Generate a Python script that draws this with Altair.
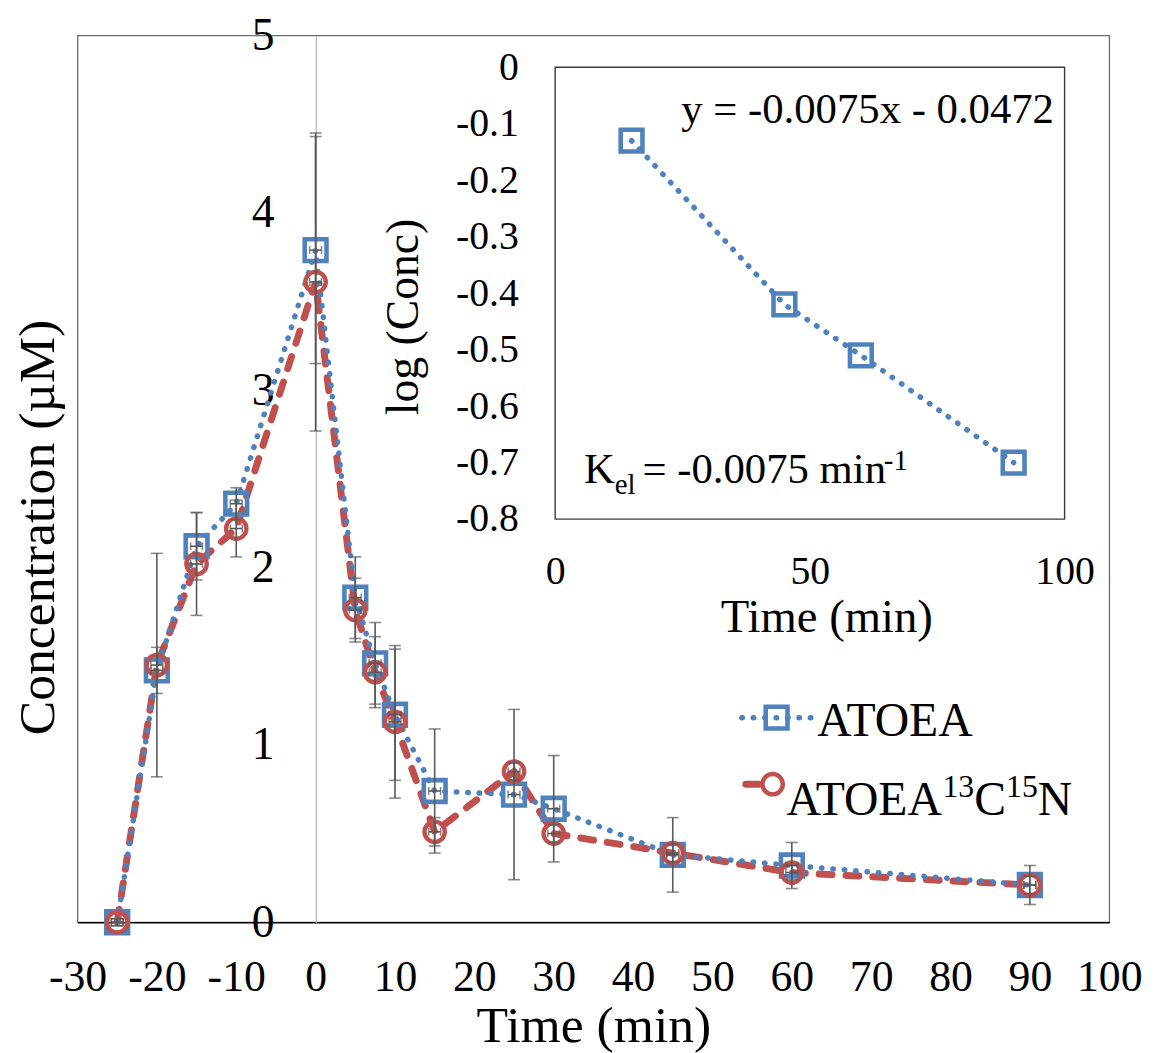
import altair as alt
import pandas as pd

FONT = "Liberation Serif"

# ---------------- data ----------------
time = [-25, -20, -15, -10, 0, 5, 7.5, 10, 15, 25, 30, 45, 60, 90]
time_err = [0.75, 0.75, 0.75, 0.75, 0.75, 0.75, 0.75, 0.75, 0.75, 0.75, 0.75, 0.75, 0.75, 0.75]
atoea = [0.0, 1.42, 2.12, 2.36, 3.79, 1.83, 1.46, 1.17, 0.74, 0.72, 0.64, 0.38, 0.32, 0.21]
atoea_err = [0.02, 0.13, 0.19, 0.09, 0.64, 0.23, 0.23, 0.37, 0.35, 0.48, 0.30, 0.21, 0.13, 0.11]
labeled = [0.0, 1.45, 2.02, 2.22, 3.61, 1.76, 1.41, 1.13, 0.51, 0.85, 0.50, 0.39, 0.28, 0.21]
labeled_err = [0.02, 0.63, 0.29, 0.16, 0.84, 0.18, 0.20, 0.43, 0.08, 0.05, 0.05, 0.05, 0.04, 0.05]

inset_time = [15, 45, 60, 90]
inset_log = [-0.13, -0.42, -0.51, -0.70]

x_ticks = [-30, -20, -10, 0, 10, 20, 30, 40, 50, 60, 70, 80, 90, 100]
y_ticks = [0, 1, 2, 3, 4, 5]
inset_x_ticks = [0, 50, 100]
inset_y_ticks = [0, -0.1, -0.2, -0.3, -0.4, -0.5, -0.6, -0.7, -0.8]

BLUE = "#4F81BD"
RED = "#C0504D"
GREY = "#595959"

W, H = 1039, 893

SQ_SIZE, SQ_W = 480, 4.6
CI_SIZE, CI_W = 420, 4.4
BLUE_DASH = dict(color=BLUE, strokeWidth=5.5, strokeDash=[0.5, 11], strokeCap="round")
RED_DASH = dict(color=RED, strokeWidth=7, strokeDash=[13, 14], strokeCap="round")

# ---------------- tables ----------------
def series_df(vals, errs):
    d = pd.DataFrame({"t": time, "v": vals, "e": errs, "xe": time_err})
    d["lo"] = d["v"] - d["e"]
    d["hi"] = d["v"] + d["e"]
    d["xlo"] = d["t"] - d["xe"]
    d["xhi"] = d["t"] + d["xe"]
    return d

blue = series_df(atoea, atoea_err)
red = series_df(labeled, labeled_err)
err = pd.concat([blue, red], ignore_index=True)
caps = pd.DataFrame({"t": list(err["t"]) * 2, "c": list(err["lo"]) + list(err["hi"])})
xcaps = pd.DataFrame({"x": list(err["xlo"]) + list(err["xhi"]), "v": list(err["v"]) * 2})
inset = pd.DataFrame({"t": inset_time, "v": inset_log})
frame = pd.DataFrame({"x0": [0], "x1": [100], "y0": [-0.8], "y1": [0]})
one = pd.DataFrame({"k": [0]})

# ---------------- main scales / axes ----------------
xscale = alt.Scale(domain=[-30, 100], nice=False, zero=False)
yscale = alt.Scale(domain=[0, 5], nice=False, zero=False)

xaxis = alt.Axis(
    orient="bottom", values=x_ticks, ticks=False, grid=False,
    domainColor="black", domainWidth=1.5,
    labelFont=FONT, labelFontSize=44, labelColor="black", labelPadding=34,
    labelFlush=False, labelOverlap=False,
    labelExpr="datum.value < 0 ? '-' + format(-datum.value, 'd') : format(datum.value, 'd')",
    title="Time (min)", titleFont=FONT, titleFontSize=52, titleFontWeight="normal",
    titleColor="black", titleX=W / 2, titleY=120, titleBaseline="alphabetic",
    titleAlign="center",
)
yaxis = alt.Axis(
    orient="left", offset=-240, values=y_ticks, ticks=False, grid=False,
    domainColor="#BFBFBF", domainWidth=1.5,
    labelFont=FONT, labelFontSize=46, labelColor="black", labelPadding=42,
    labelFlush=False, labelOverlap=False,
    title="Concentration (µM)", titleFont=FONT, titleFontSize=52,
    titleFontWeight="normal", titleColor="black", titleX=-264, titleY=495,
    titleAngle=270, titleBaseline="alphabetic", titleAlign="center",
)

def MX(f):
    return alt.X(f"{f}:Q", scale=xscale, axis=xaxis)

def MY(f):
    return alt.Y(f"{f}:Q", scale=yscale, axis=yaxis)

red_line = alt.Chart(red).mark_line(**RED_DASH).encode(x=MX("t"), y=MY("v"))
blue_line = alt.Chart(blue).mark_line(**BLUE_DASH).encode(x=MX("t"), y=MY("v"))
blue_pts = alt.Chart(blue).mark_point(
    shape="square", filled=False, size=SQ_SIZE, strokeWidth=SQ_W, color=BLUE, opacity=1
).encode(x=MX("t"), y=MY("v"))
red_pts = alt.Chart(red).mark_point(
    shape="circle", filled=False, size=CI_SIZE, strokeWidth=CI_W, color=RED, opacity=1
).encode(x=MX("t"), y=MY("v"))
err_rule = alt.Chart(err).mark_rule(color=GREY, strokeWidth=1.6).encode(
    x=MX("t"), y=MY("lo"), y2="hi"
)
err_caps = alt.Chart(caps).mark_tick(
    color=GREY, orient="horizontal", size=12, thickness=1.6
).encode(x=MX("t"), y=MY("c"))
xerr_rule = alt.Chart(err).mark_rule(color=GREY, strokeWidth=1.6).encode(
    x=MX("xlo"), x2="xhi", y=MY("v")
)
xerr_caps = alt.Chart(xcaps).mark_tick(
    color=GREY, orient="vertical", size=8, thickness=1.6
).encode(x=MX("x"), y=MY("v"))


def txt(s, x, y, size):
    return alt.Chart(one).mark_text(
        text=s, font=FONT, fontSize=size, align="left", baseline="alphabetic",
        color="black",
    ).encode(x=alt.value(x), y=alt.value(y))


# legend (drawn inside plot area)
leg_blue_line = alt.Chart(one).mark_rule(**BLUE_DASH).encode(
    x=alt.value(669), x2=alt.value(739), y=alt.value(687))
leg_blue_pt = alt.Chart(one).mark_point(
    shape="square", filled=False, size=SQ_SIZE, strokeWidth=SQ_W, color=BLUE, opacity=1
).encode(x=alt.value(704), y=alt.value(687))
leg_red_line = alt.Chart(one).mark_rule(**RED_DASH).encode(
    x=alt.value(673), x2=alt.value(690), y=alt.value(754))
leg_red_pt = alt.Chart(one).mark_point(
    shape="circle", filled=False, size=CI_SIZE, strokeWidth=CI_W, color=RED, opacity=1
).encode(x=alt.value(700), y=alt.value(754))

legend = [
    leg_blue_line, leg_blue_pt, txt("ATOEA", 745, 705, 48),
    leg_red_line, leg_red_pt,
    txt("ATOEA", 714, 785, 48), txt("13", 871, 767, 32), txt("C", 903, 785, 48),
    txt("15", 935, 767, 32), txt("N", 967, 785, 48),
]

main = alt.layer(
    red_line, blue_line, blue_pts, red_pts,
    err_rule, err_caps, xerr_rule, xerr_caps, *legend
)

# ---------------- inset ----------------
ixscale = alt.Scale(domain=[0, 100], range=[481, 994], nice=False, zero=False)
iyscale = alt.Scale(domain=[-0.8, 0], range=[487, 32], nice=False, zero=False)

ixaxis = alt.Axis(
    orient="bottom", offset=-406, values=inset_x_ticks, ticks=False, grid=False,
    domain=False, labelFont=FONT, labelFontSize=40, labelColor="black",
    labelPadding=33, labelFlush=False, labelOverlap=False,
    title="Time (min)", titleFont=FONT, titleFontSize=47, titleFontWeight="normal",
    titleColor="black", titleX=754, titleY=113, titleBaseline="alphabetic",
    titleAlign="center",
)
iyaxis = alt.Axis(
    orient="left", offset=-481, values=inset_y_ticks, ticks=False, grid=False,
    domain=False, labelFont=FONT, labelFontSize=40, labelColor="black",
    labelPadding=37, labelFlush=False, labelOverlap=False,
    labelExpr="datum.value < 0 ? '-' + format(-datum.value, '.1f') : '0'",
    title="log (Conc)", titleFont=FONT, titleFontSize=46, titleFontWeight="normal",
    titleColor="black", titleX=-139, titleY=283, titleAngle=270,
    titleBaseline="alphabetic", titleAlign="center",
)

def IX(f):
    return alt.X(f"{f}:Q", scale=ixscale, axis=ixaxis)

def IY(f):
    return alt.Y(f"{f}:Q", scale=iyscale, axis=iyaxis)

inset_frame = alt.Chart(frame).mark_rect(
    filled=False, color="#3a3a3a", strokeWidth=1.4
).encode(x=IX("x0"), x2="x1", y=IY("y0"), y2="y1")
inset_line = alt.Chart(inset).mark_line(**BLUE_DASH).encode(x=IX("t"), y=IY("v"))
inset_pts = alt.Chart(inset).mark_point(
    shape="square", filled=False, size=SQ_SIZE, strokeWidth=SQ_W, color=BLUE, opacity=1
).encode(x=IX("t"), y=IY("v"))

inset_texts = [
    txt("y = -0.0075x - 0.0472", 608, 88, 43),
    txt("K", 510, 451, 43),
    txt("el", 541, 462, 29),
    txt("= -0.0075 min", 569, 451, 43),
    txt("-1", 812, 438, 29),
]

inset_layer = alt.layer(inset_frame, inset_line, inset_pts, *inset_texts)

chart = (
    alt.layer(main, inset_layer)
    .resolve_scale(x="independent", y="independent")
    .resolve_axis(x="independent", y="independent")
    .properties(
        width=W, height=H,
        autosize=alt.AutoSizeParams(type="none"),
        padding={"left": 70, "top": 24, "right": 39, "bottom": 128},
        background="white",
    )
    .configure_view(stroke="#6b6b6b", strokeWidth=1.3)
)

chart.save("out.html", embed_options={"renderer": "svg", "actions": False})
